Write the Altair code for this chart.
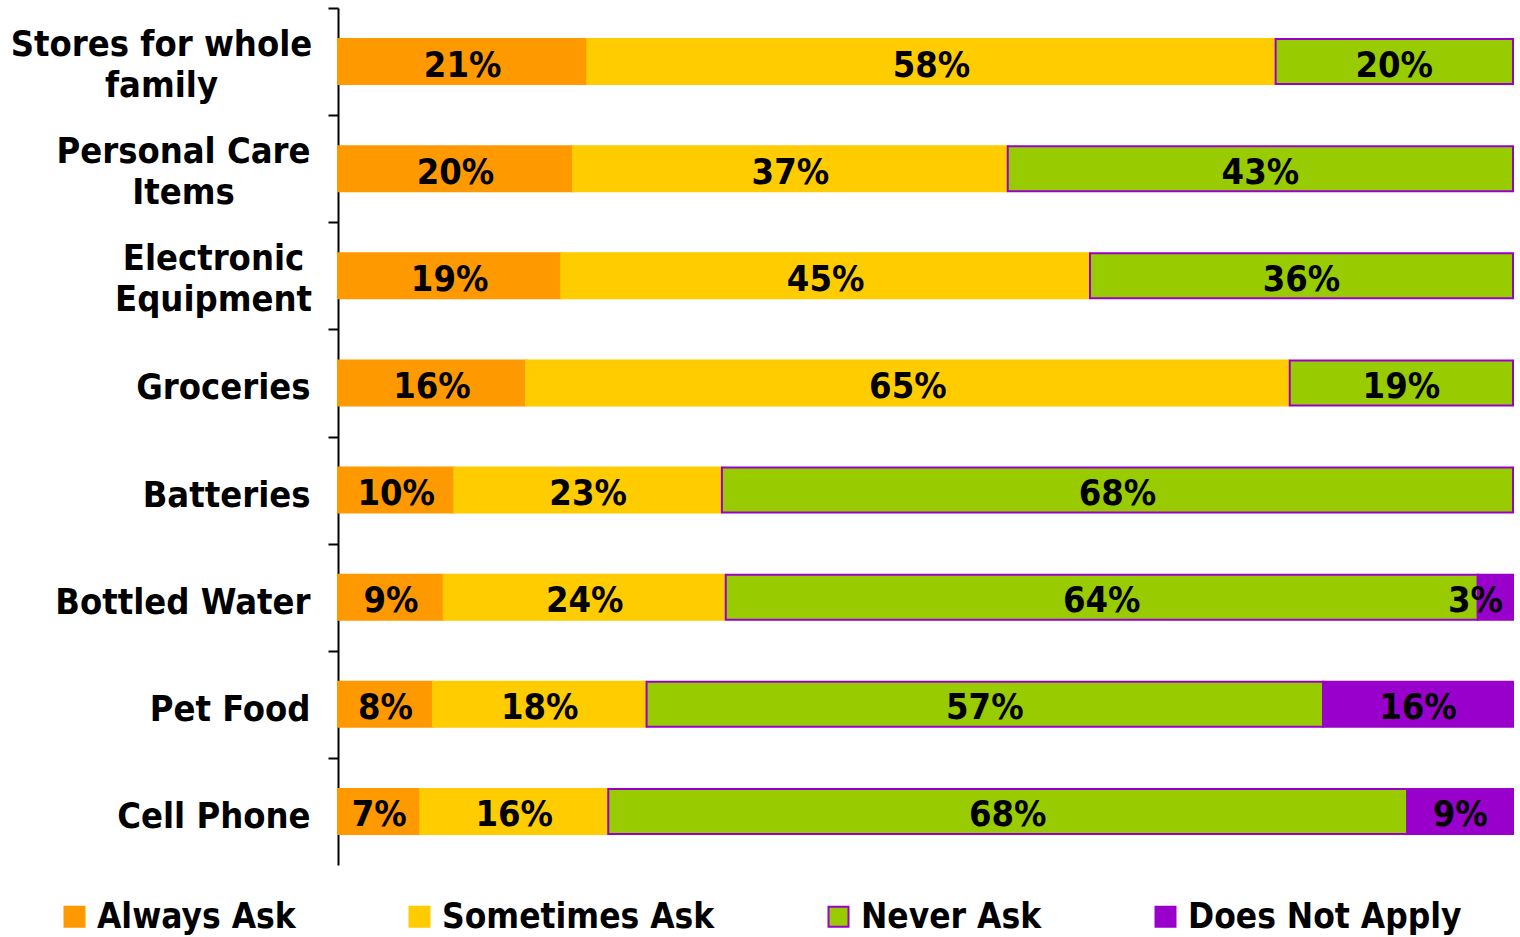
import altair as alt
import pandas as pd

categories = ["Stores for whole family", "Personal Care Items", "Electronic Equipment",
              "Groceries", "Batteries", "Bottled Water", "Pet Food", "Cell Phone"]
series = ["Always Ask", "Sometimes Ask", "Never Ask", "Does Not Apply"]
always_ask = [21, 20, 19, 16, 10, 9, 8, 7]
sometimes_ask = [58, 37, 45, 65, 23, 24, 18, 16]
never_ask = [20, 43, 36, 19, 68, 64, 57, 68]
does_not_apply = [0, 0, 0, 0, 0, 3, 16, 9]
fill_colors = ["#FF9900", "#FFCC00", "#99CC00", "#9900CC"]
stroke_colors = ["#FF9900", "#FFCC00", "#9900CC", "#9900CC"]

multi_line = {
    "Stores for whole family": ["Stores for whole", "family"],
    "Personal Care Items": ["Personal Care", "Items"],
    "Electronic Equipment": ["Electronic", "Equipment"],
}
pad_multi = {"Stores for whole family": 167, "Personal Care Items": 145, "Electronic Equipment": 115}

rows = []
for vals, s_i in zip([always_ask, sometimes_ask, never_ask, does_not_apply], range(4)):
    for c, v in zip(categories, vals):
        if v > 0:
            rows.append({"cat": c, "series": series[s_i], "order": s_i, "value": v,
                         "label": f"{v}%"})
df = pd.DataFrame(rows)

FONT = "DejaVu Sans Condensed, DejaVu Sans"

label_expr = ""
for k, lines in multi_line.items():
    arr = "[" + ",".join(f"'{l}'" for l in lines) + "]"
    label_expr += f"datum.label == '{k}' ? {arr} : "
label_expr += "datum.label"

multi_test = "indexof([" + ",".join(f"'{k}'" for k in multi_line) + "], datum.label) >= 0"
pad_cond = {"condition": [{"test": f"datum.label == '{k}'", "value": v} for k, v in pad_multi.items()],
            "value": 18}

STEP = 857 / 8.0

y_enc = alt.Y("cat:N", sort=categories, title=None,
              scale=alt.Scale(paddingInner=0.58, paddingOuter=0.29),
              axis=alt.Axis(labelExpr=label_expr, labelFont=FONT, labelFontSize=36,
                            labelFontWeight="bold", labelColor="black",
                            labelAlign={"condition": {"test": multi_test, "value": "center"}, "value": "right"},
                            labelPadding=pad_cond,
                            labelOffset={"condition": {"test": multi_test, "value": STEP / 2 - 17},
                                         "value": STEP / 2 + 5},
                            labelLineHeight=41, labelBaseline="middle",
                            tickOffset=-STEP / 2, tickSize=10, tickColor="black",
                            domainColor="black", domainWidth=2, tickWidth=2,
                            labelLimit=400))

base = alt.Chart(df).transform_stack(
    stack="value", groupby=["cat"], as_=["x0", "x1"], offset="normalize",
    sort=[alt.SortField("order", order="ascending")]
).transform_calculate(mid="min((datum.x0 + datum.x1) / 2, 0.968)")

bars = base.mark_bar(strokeWidth=2).encode(
    y=y_enc,
    x=alt.X("x0:Q", axis=None, scale=alt.Scale(domain=[0, 1], nice=False, zero=True)),
    x2="x1:Q",
    fill=alt.Fill("series:N", sort=series,
                  scale=alt.Scale(domain=series, range=fill_colors),
                  legend=alt.Legend(title=None, orient="none", legendX=-281, legendY=891,
                                    direction="horizontal", columns=4, columnPadding=106,
                                    symbolType="square", symbolSize=400, symbolStrokeWidth=2,
                                    symbolOpacity=1, labelFont=FONT, labelFontSize=35,
                                    labelFontWeight="bold", labelColor="black",
                                    labelOffset=5, labelLimit=400)),
    stroke=alt.Stroke("series:N", sort=series,
                      scale=alt.Scale(domain=series, range=stroke_colors)),
)

texts = base.mark_text(font=FONT, fontSize=36, fontWeight="bold", color="black",
                       baseline="middle", align="center", dy=4).encode(
    y=alt.Y("cat:N", sort=categories),
    x=alt.X("mid:Q"),
    text="label:N",
)

chart = (bars + texts).properties(
    width=1175, height=857,
    autosize=alt.AutoSizeParams(type="none"),
    padding={"left": 338, "top": 8, "right": 7, "bottom": 72},
).configure_view(stroke=None)

chart.save("out.html", embed_options={"renderer": "svg", "actions": False})
